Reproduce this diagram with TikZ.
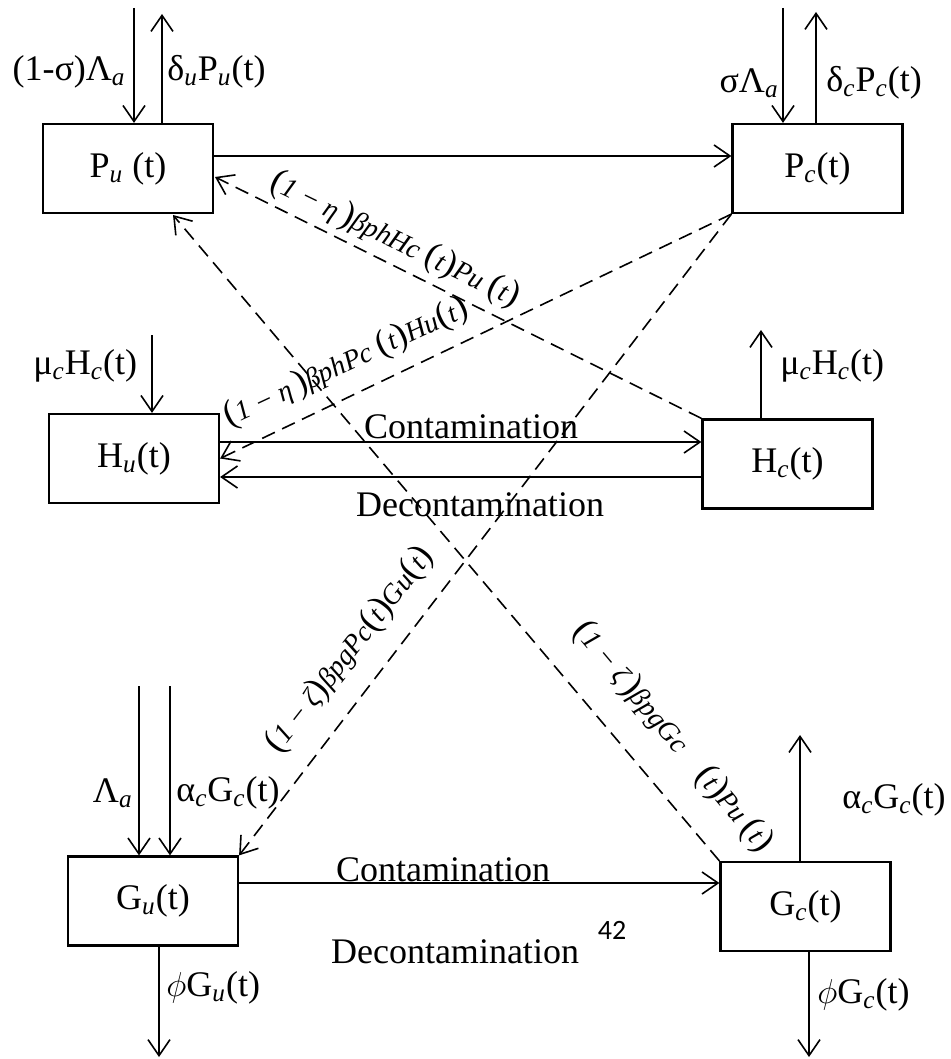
\documentclass[tikz,border=0pt]{standalone}
\usepackage{fontspec}
\setmainfont{Liberation Serif}
\newfontfamily\numfont{Carlito}
\usetikzlibrary{arrows.meta,calc}
\newcommand{\mysub}[1]{\textsubscript{\itshape #1}}
\newcommand{\lpar}{{\upshape\fontsize{18}{18}\selectfont(}}
\newcommand{\rpar}{{\upshape\fontsize{18}{18}\selectfont)}}
\begin{document}
\begin{tikzpicture}[x=0.5pt,y=-0.5pt,
  box/.style={draw,line width=1.1pt,minimum width=85pt,minimum height=44.5pt,inner sep=0pt,font=\fontsize{18}{20}\selectfont},
  flow/.style={line width=0.8pt,-{Straight Barb[length=8pt,width=11pt,line width=0.8pt]}},
  dflow/.style={flow,dash pattern=on 7pt off 4pt},
  lbl/.style={font=\fontsize{18}{20}\selectfont,inner sep=0pt},
  mlbl/.style={font=\itshape\fontsize{14}{16}\selectfont,inner sep=0pt}
]
\useasboundingbox (0,0) rectangle (950,1059);

% boxes
\node[box] (Pu) at (128,168.5) {P\mysub{u} (t)};
\node[box] (Pc) at (817.5,168.5) {P\mysub{c}(t)};
\node[box] (Hu) at (134,458.5) {H\mysub{u}(t)};
\node[box] (Hc) at (787.5,464) {H\mysub{c}(t)};
\node[box] (Gu) at (153,901) {G\mysub{u}(t)};
\node[box] (Gc) at (805.5,906.5) {G\mysub{c}(t)};

% helper coordinates
\coordinate (a1) at (134,8);
\coordinate (a2) at (162,14);
\coordinate (a3) at (783,8);
\coordinate (a4) at (816,12);
\coordinate (yPP) at (0,156);
\coordinate (a5) at (152,335);
\coordinate (a6) at (761,330);
\coordinate (yHc) at (0,442);
\coordinate (yHd) at (0,477);
\coordinate (a7) at (139,686);
\coordinate (a8) at (170,686);
\coordinate (a9) at (800,735);
\coordinate (yG) at (0,883);
\coordinate (b1) at (159,1057);
\coordinate (b2) at (809,1057);
\coordinate (t1) at (215,177);
\coordinate (t4) at (173,215);

% top
\draw[flow] (a1) -- (a1 |- Pu.north);
\draw[flow] (a2 |- Pu.north) -- (a2);
\draw[flow] (a3) -- (a3 |- Pc.north);
\draw[flow] (a4 |- Pc.north) -- (a4);
\draw[flow] (Pu.east |- yPP) -- (Pc.west |- yPP);
\node[lbl,anchor=east] (l1) at (126,72) {(1-σ)Λ\mysub{a}};
\node[lbl,anchor=west] (l2) at (167,72) {δ\mysub{u}P\mysub{u}(t)};
\node[lbl,anchor=east] (l3) at (779,83) {σΛ\mysub{a}};
\node[lbl,anchor=west] (l4) at (826,83) {δ\mysub{c}P\mysub{c}(t)};

% middle
\draw[flow] (a5) -- (a5 |- Hu.north);
\draw[flow] (a6 |- Hc.north) -- (a6);
\node[lbl,anchor=west] (l5) at (33,366) {μ\mysub{c}H\mysub{c}(t)};
\node[lbl,anchor=west] (l6) at (780,366) {μ\mysub{c}H\mysub{c}(t)};
\draw[flow] (Hu.east |- yHc) -- (Hc.west |- yHc);
\draw[flow] (Hc.west |- yHd) -- (Hu.east |- yHd);
\node[lbl] (c1) at (471,427) {Contamination};
\node[lbl] (d1) at (480,505) {Decontamination};

% dashed
\draw[dflow] (Hc.north west) -- (t1);
\draw[dflow] (Pc.south west) -- (Hu.east);
\draw[dflow] (Pc.south west) -- (Gu.north east);
\draw[dflow] (Gc.north west) -- (t4);
\node[mlbl,rotate=-25.8] (m1) at (395,240) {\lpar 1 − η\,\rpar βphHc \lpar t\rpar Pu \lpar t\rpar};
\node[mlbl,rotate=25] (m2) at (346,363) {\lpar 1 − η\,\rpar βphPc \lpar t\rpar Hu\lpar t\rpar};
\node[mlbl,rotate=52] (m3) at (350,650) {\lpar 1 − ζ\rpar βpgPc\lpar t\rpar Gu\lpar t\rpar};
\node[mlbl,rotate=-50] (m4) at (673,737) {\lpar 1 − ζ\,\rpar βpgGc\quad\lpar t\rpar Pu \lpar t\rpar};

% bottom
\draw[flow] (a7) -- (a7 |- Gu.north);
\draw[flow] (a8) -- (a8 |- Gu.north);
\draw[flow] (a9 |- Gc.north) -- (a9);
\node[lbl,anchor=east] (l7) at (133,793) {Λ\mysub{a}};
\node[lbl,anchor=west] (l8) at (176,793) {α\mysub{c}G\mysub{c}(t)};
\node[lbl,anchor=west] (l9) at (842,800) {α\mysub{c}G\mysub{c}(t)};
\draw[flow] (Gu.east |- yG) -- (Gc.west |- yG);
\node[lbl] (c2) at (443,870) {Contamination};
\node[lbl] (d2) at (455,952) {Decontamination};
\node[inner sep=0pt,font=\numfont\fontsize{14}{16}\selectfont] (n42) at (612,930) {42};
\draw[flow] (Gu.south -| b1) -- (b1);
\draw[flow] (Gc.south -| b2) -- (b2);
\node[lbl,anchor=west] (l10) at (166,988) {$\phi$G\mysub{u}(t)};
\node[lbl,anchor=west] (l11) at (817,995) {$\phi$G\mysub{c}(t)};
\end{tikzpicture}
\end{document}
